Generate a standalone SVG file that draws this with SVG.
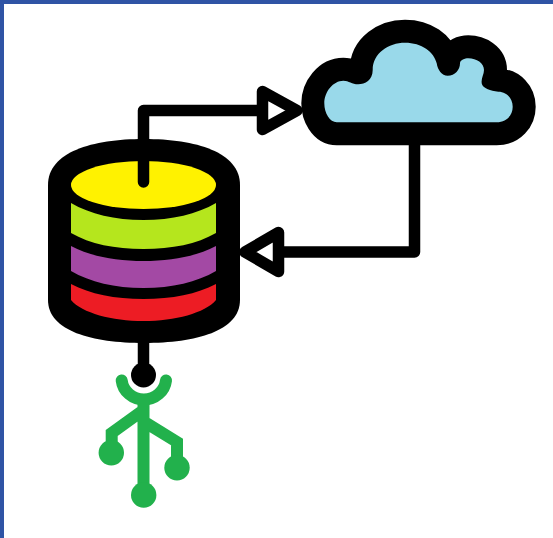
<svg xmlns="http://www.w3.org/2000/svg" width="553" height="538" viewBox="0 0 553 538">
<style>
.k{fill:none;stroke:#000;stroke-width:11.500;stroke-linecap:round;stroke-linejoin:round}
.g{fill:none;stroke:#22b14c;stroke-width:12;stroke-linecap:round;stroke-linejoin:miter}
.h{fill:#fff;stroke:#000;stroke-width:11.500;stroke-linejoin:round}
.d{fill:#22b14c}
</style>
<rect width="553" height="538" fill="#fff"/>
<path d="M0 0H553V4H4V538H0Z" fill="#2f54a5"/>
<g id="connectors">
<path class="k" d="M143.500 182V110.500H262"/>
<path class="h" d="M262.500 91.500L297 110.500L262.500 129.500Z"/>
<path class="k" d="M414.500 135V252H280"/>
<path class="h" d="M278.500 232.500L245 252L278.500 271.500Z"/>
<path class="k" d="M143.500 340V375"/>
</g>
<g id="database">
<path d="M48 185C48 152 92 139 144 139C196 139 240 152 240 185V300C240 331 196 343 144 343C92 343 48 331 48 300Z" fill="#000"/>
<ellipse cx="143.500" cy="185" rx="72.500" ry="24" fill="#fff200"/>
<path d="M71 203C90 214 115 220 143.500 220C172 220 197 214 216 203V233C197 244 172 249 143.500 249C115 249 90 244 71 233Z" fill="#b5e61d"/>
<path d="M71 246C90 256 115 261 143.500 261C172 261 197 256 216 246V271C197 282 172 288 143.500 288C115 288 90 282 71 271Z" fill="#a349a4"/>
<path d="M71 284C90 294 115 299 143.500 299C172 299 197 294 216 284V300C205 313 175 321 143.500 321C112 321 82 313 71 300Z" fill="#ed1c24"/>
<path class="k" d="M143.500 140V182"/>
</g>
<g id="cloud">
<path d="M336.700 122.300H496.700C506.700 122.300 512.700 115 512.700 106.700C512.700 98.300 506.700 91.700 498.300 91.700C490 90.700 484 88.300 482.300 85C480 80 484 75 484 70C484 63.300 476.700 58.300 468.300 58.300C465 58.300 460 60 460 63.300C460 70 455 75.700 447.700 75.700C441.700 75.700 437.700 70 436.700 63.300C434 51.700 421.700 42.700 405 42.700C388.300 42.700 372.700 53.300 372.700 70C372.700 80 365 84.300 358.300 84.300C351.700 84.300 349 80.700 343.300 80.700C333.300 80.700 324.300 91.700 324.300 103.300C324.300 113.300 330 122.300 336.700 122.300Z" fill="#99d9ea" stroke="#000" stroke-width="46" stroke-linejoin="round" paint-order="stroke"/>
</g>
<g id="usb">
<circle cx="143.500" cy="375" r="12.500" fill="#000"/>
<path class="g" d="M121.700 380.500A22.300 21.500 0 0 0 166 380.500"/>
<path class="g" d="M143.500 401V495M143.500 410L111.700 433V452M143.500 421.400L177 442V467"/>
<circle class="d" cx="111.300" cy="452.700" r="12.700"/>
<circle class="d" cx="177" cy="467.700" r="12.700"/>
<circle class="d" cx="143.700" cy="495" r="12.700"/>
</g>
</svg>
